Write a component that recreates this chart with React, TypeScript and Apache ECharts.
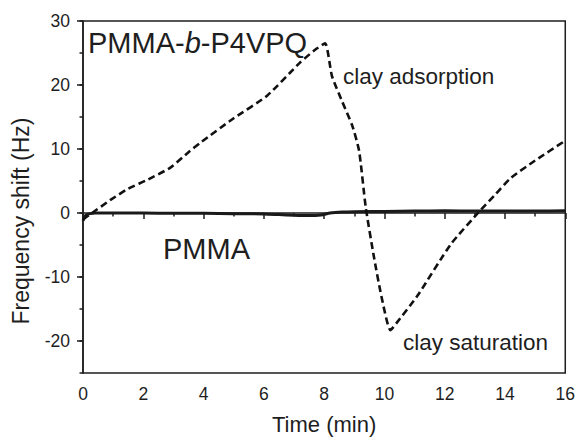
import React, { useEffect, useRef } from "react";
import * as echarts from "echarts";

const xTickLabels = [0, 2, 4, 6, 8, 10, 12, 14, 16];
const yTickValues = [-20, -10, 0, 10, 20, 30];

const blockTime = [0, 0.3, 0.9, 1.5, 2.1, 2.9, 3.5, 3.9, 5.0, 6.1, 7.2, 7.7, 8.03, 8.26, 8.6, 8.93, 9.16, 9.38, 9.65, 9.9, 10.2, 10.4, 11.1, 12.2, 13.2, 13.7, 14.2, 15.0, 16.0];
const blockShift = [-1.0, 0, 2.0, 3.8, 5.1, 7.1, 9.5, 11, 14.8, 18.3, 23.5, 25.5, 26.5, 21.4, 17.4, 13.7, 9.7, 0.9, -6.8, -13, -18.3, -17.2, -12.9, -4.9, 0.5, 3, 5.5, 8.2, 11.3];

const pmmaTime = [0, 0.1, 0.4, 1, 2, 3, 4, 5, 6, 6.5, 7, 7.5, 7.9, 8.2, 8.6, 9, 10, 11, 12, 13, 14, 15, 16];
const pmmaShift = [-1.2, -0.3, 0, 0, 0, -0.05, -0.05, -0.1, -0.15, -0.25, -0.35, -0.4, -0.3, 0, 0.15, 0.2, 0.25, 0.3, 0.35, 0.3, 0.3, 0.3, 0.35];

const FONT = "Liberation Sans, Arial, Helvetica, sans-serif";
const INK = "#1e1e1e";

export default function App() {
  const ref = useRef<HTMLDivElement>(null);
  useEffect(() => {
    if (!ref.current) return;
    const chart = echarts.init(ref.current, null, { renderer: "svg" });
    const lineStyle = { color: INK, width: 1.5 };
    chart.setOption({
      animation: false,
      backgroundColor: "#fff",
      grid: { left: 83, right: 11, top: 21, bottom: 61, show: true, borderColor: INK, borderWidth: 1.5, backgroundColor: "transparent" },
      xAxis: {
        type: "value",
        min: 0,
        max: 16,
        interval: 2,
        axisLine: { show: true, lineStyle },
        axisTick: { show: true, length: 6, lineStyle },
        minorTick: { show: true, splitNumber: 2, length: 3.5, lineStyle },
        axisLabel: { margin: 12, fontSize: 17.5, color: INK, fontFamily: FONT, formatter: (v: number) => (xTickLabels.includes(v) ? String(v) : "") },
        splitLine: { show: false },
        minorSplitLine: { show: false },
        name: "Time (min)",
        nameLocation: "middle",
        nameGap: 40,
        nameTextStyle: { fontSize: 22, color: INK, fontFamily: FONT },
      },
      yAxis: [
        {
          type: "value",
          min: -25,
          max: 30,
          interval: 5,
          position: "left",
          axisLine: { show: true, lineStyle },
          axisTick: { show: true, length: 3.5, lineStyle },
          axisLabel: { show: false },
          splitLine: { show: false },
        },
        {
          type: "value",
          min: -25,
          max: 30,
          interval: 5,
          position: "left",
          offset: 0,
          axisLine: { show: false },
          axisTick: { show: true, length: 6, lineStyle, customValues: yTickValues },
          axisLabel: { margin: 13, fontSize: 17.5, color: INK, fontFamily: FONT, customValues: yTickValues },
          splitLine: { show: false },
        },
      ],
      graphic: [
        {
          type: "text",
          x: 21,
          y: 221,
          rotation: Math.PI / 2,
          style: { text: "Frequency shift (Hz)", fontSize: 23, fill: INK, fontFamily: FONT, align: "center", verticalAlign: "middle" },
        },
        {
          type: "text",
          x: 88,
          y: 42.5,
          style: {
            text: "{n|PMMA-}{i|b}{n|-P4VPQ}",
            fontSize: 29,
            fill: INK,
            fontFamily: FONT,
            align: "left",
            verticalAlign: "middle",
            rich: {
              n: { fontSize: 29, fill: INK, fontFamily: FONT },
              i: { fontSize: 29, fill: INK, fontFamily: FONT, fontStyle: "italic" },
            },
          },
        },
        {
          type: "text",
          x: 163,
          y: 248.5,
          style: { text: "PMMA", fontSize: 29, fill: INK, fontFamily: FONT, align: "left", verticalAlign: "middle" },
        },
        {
          type: "text",
          x: 343,
          y: 76,
          style: { text: "clay adsorption", fontSize: 22.5, fill: INK, fontFamily: FONT, align: "left", verticalAlign: "middle" },
        },
        {
          type: "text",
          x: 403,
          y: 342.6,
          style: { text: "clay saturation", fontSize: 22.5, fill: INK, fontFamily: FONT, align: "left", verticalAlign: "middle" },
        },
      ],
      series: [
        {
          type: "line",
          yAxisIndex: 0,
          data: pmmaTime.map((t, i) => [t, pmmaShift[i]]),
          showSymbol: false,
          smooth: 0.2,
          lineStyle: { color: "#1a1a1a", width: 3, type: "solid" },
          silent: true,
        },
        {
          type: "line",
          yAxisIndex: 0,
          data: blockTime.map((t, i) => [t, blockShift[i]]),
          showSymbol: false,
          smooth: 0.2,
          lineStyle: { color: "#111", width: 2.6, type: [7, 4] },
          silent: true,
        },
      ],
    });
    return () => chart.dispose();
  }, []);
  return <div ref={ref} style={{ position: "fixed", left: 0, top: 0, width: 578, height: 440 }} />;
}
